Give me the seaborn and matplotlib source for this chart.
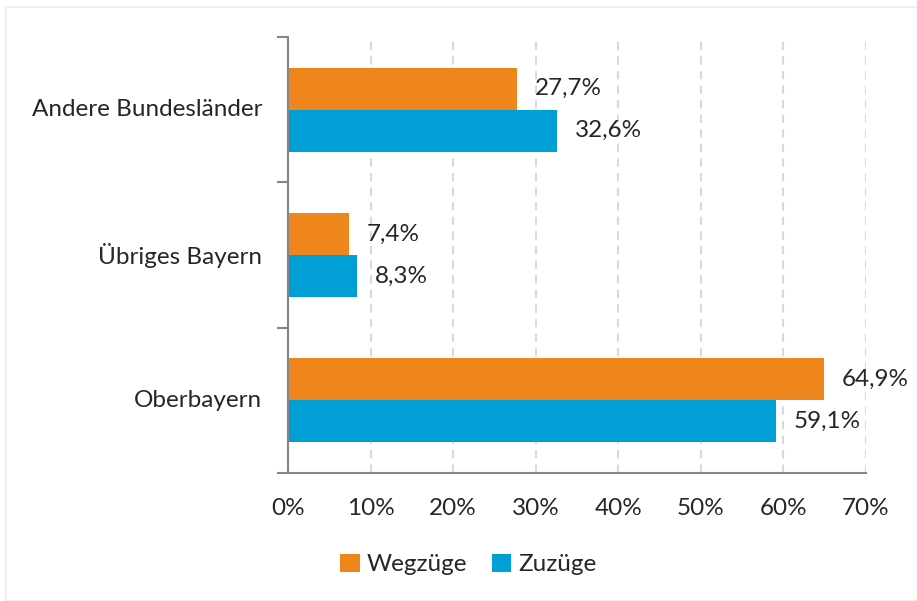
import pandas as pd
import seaborn as sns
import matplotlib.pyplot as plt
from matplotlib.patches import Rectangle

regionen = ['Andere Bundesländer', 'Übriges Bayern', 'Oberbayern']
wegzuege = [27.7, 7.4, 64.9]
zuzuege = [32.6, 8.3, 59.1]
serien = ['Wegzüge', 'Zuzüge']
farben = ['#EF861C', '#009FD6']
xticks = [0, 10, 20, 30, 40, 50, 60, 70]

df = pd.DataFrame({
    'region': regionen * 2,
    'art': [serien[0]] * 3 + [serien[1]] * 3,
    'wert': wegzuege + zuzuege,
})

sns.set_style('white')
plt.rcParams['font.family'] = ['Lato', 'DejaVu Sans']
fs = 17.5

fig = plt.figure(figsize=(9.17, 6.01), dpi=100)
fig.patches.append(Rectangle((6 / 917, 0), 1, 1 - 7 / 601, transform=fig.transFigure,
                             fill=False, edgecolor='#eeeeee', linewidth=1.5))
ax = fig.add_axes([288 / 917, 128 / 601, 578 / 917, 436 / 601])

sns.barplot(data=df, y='region', x='wert', hue='art', order=regionen,
            hue_order=serien, palette=farben, orient='h', width=0.58,
            saturation=1, linewidth=0, ax=ax)

ax.set_xlim(0, 70)
ax.set_ylim(2.5, -0.5)
ax.set_xticks(xticks)
ax.set_xticklabels([f'{t}%' for t in xticks], fontsize=fs)
ax.tick_params(axis='x', length=0, pad=18)
ax.set_yticks([])
ax.set_yticks([-0.5, 0.5, 1.5, 2.5], minor=True)
ax.tick_params(axis='y', which='minor', left=True, length=8, width=1.5, color='#868686')
ax.set_xlabel('')
ax.set_ylabel('')
for i, r in enumerate(regionen):
    ax.text(-26 / 578, i, r, transform=ax.get_yaxis_transform(), ha='right', va='center', fontsize=fs)

ax.grid(axis='x', color='#d9d9d9', linestyle=(0, (4, 3)), linewidth=1.5)
ax.set_axisbelow(True)
for s in ['top', 'right']:
    ax.spines[s].set_visible(False)
for s in ['left', 'bottom']:
    ax.spines[s].set_color('#868686')
    ax.spines[s].set_linewidth(1.5)

for cont in ax.containers:
    labels = [f'{v:.1f}%'.replace('.', ',') for v in cont.datavalues]
    ax.bar_label(cont, labels=labels, padding=13, fontsize=fs)

ax.legend(loc='center', bbox_to_anchor=(0.312, -0.21), ncol=2, frameon=False,
          fontsize=fs, handlelength=0.8, handleheight=0.8, handletextpad=0.3,
          columnspacing=1.0)

fig.savefig('out.png', dpi=100)
